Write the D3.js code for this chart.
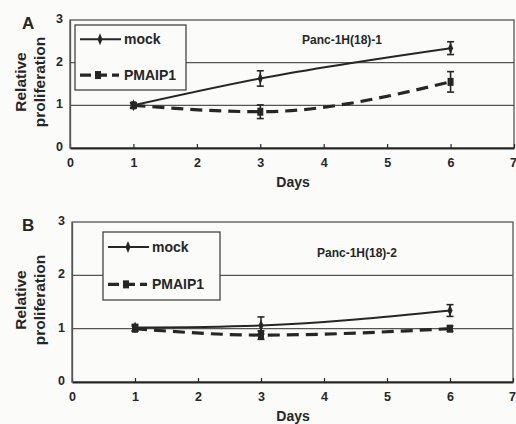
<!DOCTYPE html>
<html>
<head>
<meta charset="utf-8">
<script src="https://cdn.jsdelivr.net/npm/d3@7"></script>
<style>
  html, body { margin: 0; padding: 0; background: #fbfbf9; }
  svg { display: block; font-family: "Liberation Sans", Arial, sans-serif; }
</style>
</head>
<body>
<div id="chart"></div>
<script>
(function(d3) {
    'use strict';

    // Data
    var days = [1, 3, 6];
    var xTicks = [0, 1, 2, 3, 4, 5, 6, 7];
    var yTicks = [0, 1, 2, 3];
    var seriesNames = ['mock', 'PMAIP1'];

    var mockA = [1.0, 1.63, 2.34];
    var mockAErr = [0.06, 0.18, 0.15];
    var pmaipA = [1.0, 0.85, 1.55];
    var pmaipAErr = [0.06, 0.16, 0.24];

    var mockB = [1.02, 1.06, 1.34];
    var mockBErr = [0.06, 0.16, 0.11];
    var pmaipB = [1.0, 0.88, 1.0];
    var pmaipBErr = [0.05, 0.08, 0.05];

    var ink = '#262626';
    var width = 516, height = 424;

    var svg = d3.select('#chart').append('svg')
        .attr('width', width)
        .attr('height', height);

    var panels = [
        {
            letter: 'A', title: 'Panc-1H(18)-1',
            box: {left: 70, right: 514, top: 20, bottom: 148},
            legend: {x: 75, y: 25, w: 111, h: 65},
            titlePos: [342, 44],
            mock: mockA, mockErr: mockAErr, pmaip: pmaipA, pmaipErr: pmaipAErr
        },
        {
            letter: 'B', title: 'Panc-1H(18)-2',
            box: {left: 72, right: 513, top: 222, bottom: 382},
            legend: {x: 103, y: 232, w: 117, h: 68},
            titlePos: [357, 257],
            mock: mockB, mockErr: mockBErr, pmaip: pmaipB, pmaipErr: pmaipBErr
        }
    ];

    function diamond(g, cx, cy) {
        g.append('path')
            .attr('d', 'M' + cx + ',' + (cy - 6) + 'L' + (cx + 2.5) + ',' + cy +
                'L' + cx + ',' + (cy + 6) + 'L' + (cx - 2.5) + ',' + cy + 'Z')
            .attr('fill', ink);
    }

    function square(g, cx, cy) {
        g.append('rect')
            .attr('x', cx - 3).attr('y', cy - 4)
            .attr('width', 6).attr('height', 8)
            .attr('fill', ink);
    }

    function drawPanel(p) {
        var b = p.box;
        var x = d3.scaleLinear().domain([0, 7]).range([b.left, b.right]);
        var y = d3.scaleLinear().domain([0, 3]).range([b.bottom, b.top]);
        var g = svg.append('g');

        // Gridlines
        g.selectAll('.grid').data([1, 2]).enter().append('line')
            .attr('x1', b.left).attr('x2', b.right)
            .attr('y1', function(d) { return y(d); })
            .attr('y2', function(d) { return y(d); })
            .attr('stroke', '#555').attr('stroke-width', 1.3);

        // Frame
        g.append('rect')
            .attr('x', b.left).attr('y', b.top)
            .attr('width', b.right - b.left).attr('height', b.bottom - b.top)
            .attr('fill', 'none').attr('stroke', '#555').attr('stroke-width', 1.3);

        // Axes
        var fmt = d3.format('d');
        var xAxis = d3.axisBottom(x).tickValues(xTicks).tickFormat(fmt)
            .tickSizeInner(-4).tickSizeOuter(0).tickPadding(10);
        var gx = g.append('g').attr('transform', 'translate(0,' + b.bottom + ')').call(xAxis);
        var yAxis = d3.axisLeft(y).tickValues(yTicks).tickFormat(fmt).tickSize(0).tickPadding(7);
        var gy = g.append('g').attr('transform', 'translate(' + b.left + ',0)').call(yAxis);
        [gx, gy].forEach(function(a) {
            a.select('.domain').attr('stroke', ink).attr('stroke-width', 2);
            a.selectAll('.tick line').attr('stroke', ink).attr('stroke-width', 1.2);
            a.selectAll('.tick text')
                .attr('fill', ink).style('font-size', '12.5px').style('font-weight', 'bold');
        });
        gy.select('.domain').attr('stroke', '#555').attr('stroke-width', 1.3);
        gy.selectAll('.tick text').attr('dy', '0.2em');
        // last x label sits at the page edge, as in the figure
        gx.selectAll('.tick text').filter(function(d) { return d === 7; }).attr('dx', '-1px');

        // Series
        var line = d3.line()
            .x(function(d, i) { return x(days[i]); })
            .y(function(d) { return y(d); })
            .curve(d3.curveMonotoneX);

        g.append('path').datum(p.pmaip)
            .attr('d', line).attr('fill', 'none')
            .attr('stroke', ink).attr('stroke-width', 3.2)
            .attr('stroke-dasharray', '12,7');
        g.append('path').datum(p.mock)
            .attr('d', line).attr('fill', 'none')
            .attr('stroke', ink).attr('stroke-width', 2);

        function errorBars(vals, errs) {
            vals.forEach(function(v, i) {
                var cx = x(days[i]);
                var y0 = y(v - errs[i]), y1 = y(v + errs[i]);
                g.append('line').attr('x1', cx).attr('x2', cx).attr('y1', y0).attr('y2', y1)
                    .attr('stroke', ink).attr('stroke-width', 1.6);
                [y0, y1].forEach(function(yy) {
                    g.append('line').attr('x1', cx - 3.5).attr('x2', cx + 3.5)
                        .attr('y1', yy).attr('y2', yy)
                        .attr('stroke', ink).attr('stroke-width', 1.6);
                });
            });
        }
        errorBars(p.pmaip, p.pmaipErr);
        errorBars(p.mock, p.mockErr);
        p.pmaip.forEach(function(v, i) { square(g, x(days[i]), y(v)); });
        p.mock.forEach(function(v, i) { diamond(g, x(days[i]), y(v)); });

        // Legend
        var L = p.legend;
        var lg = g.append('g').attr('transform', 'translate(' + L.x + ',' + L.y + ')');
        lg.append('rect').attr('width', L.w).attr('height', L.h)
            .attr('fill', '#fbfbf9').attr('stroke', '#444').attr('stroke-width', 1.3);
        seriesNames.forEach(function(name, i) {
            var ly = i === 0 ? L.h * 0.22 : L.h * 0.77;
            if (i === 0) {
                lg.append('line').attr('x1', 5).attr('x2', 46).attr('y1', ly).attr('y2', ly)
                    .attr('stroke', ink).attr('stroke-width', 2);
                diamond(lg, 25, ly);
            } else {
                lg.append('line').attr('x1', 5).attr('x2', 44).attr('y1', ly).attr('y2', ly)
                    .attr('stroke', ink).attr('stroke-width', 3.2)
                    .attr('stroke-dasharray', '11,5');
                square(lg, 23, ly);
            }
            lg.append('text').attr('x', 49).attr('y', ly).attr('dy', '0.35em')
                .attr('fill', ink).style('font-size', '14px').style('font-weight', 'bold')
                .text(name);
        });

        // Panel title
        g.append('text').attr('x', p.titlePos[0]).attr('y', p.titlePos[1])
            .attr('text-anchor', 'middle').attr('fill', ink)
            .style('font-size', '12px').style('font-weight', 'bold')
            .text(p.title);

        // Panel letter
        g.append('text').attr('x', 22).attr('y', b.top + 9)
            .attr('fill', ink).style('font-size', '17px').style('font-weight', 'bold')
            .text(p.letter);

        // Axis titles
        var cy = (b.top + b.bottom) / 2 - 2;
        var yt = g.append('text')
            .attr('transform', 'translate(26,' + cy + ') rotate(-90)')
            .attr('text-anchor', 'middle').attr('fill', ink)
            .style('font-size', '15.5px').style('font-weight', 'bold');
        yt.append('tspan').attr('x', 0).attr('y', 0).text('Relative');
        yt.append('tspan').attr('x', 0).attr('y', 19).text('proliferation');

        g.append('text').attr('x', 293).attr('y', b.bottom + 39)
            .attr('text-anchor', 'middle').attr('fill', ink)
            .style('font-size', '14px').style('font-weight', 'bold')
            .text('Days');
    }

    panels.forEach(drawPanel);
}(d3));
</script>
</body>
</html>
